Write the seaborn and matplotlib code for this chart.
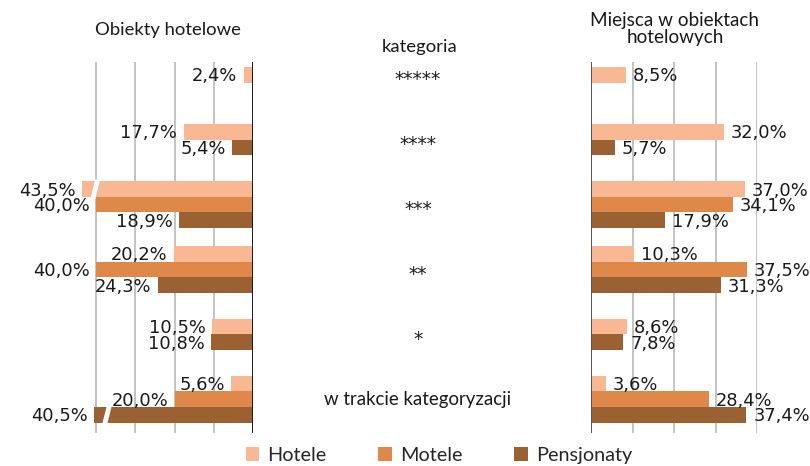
import numpy as np
import pandas as pd
import matplotlib
matplotlib.use("Agg")
import matplotlib.pyplot as plt
import matplotlib.transforms as mtransforms
from matplotlib.patches import Patch
import seaborn as sns

# ---------------- data ----------------
categories = ["*****", "****", "***", "**", "*", "w trakcie kategoryzacji"]
series = ["Hotele", "Motele", "Pensjonaty"]
obiekty_hotele = [2.4, 17.7, 43.5, 20.2, 10.5, 5.6]
obiekty_motele = [None, None, 40.0, 40.0, None, 20.0]
obiekty_pensjonaty = [None, 5.4, 18.9, 24.3, 10.8, 40.5]
miejsca_hotele = [8.5, 32.0, 37.0, 10.3, 8.6, 3.6]
miejsca_motele = [None, None, 34.1, 37.5, None, 28.4]
miejsca_pensjonaty = [None, 5.7, 17.9, 31.3, 7.8, 37.4]
colors = {"Hotele": "#F9B794", "Motele": "#E0884A", "Pensjonaty": "#9B6133"}
title_left = "Obiekty hotelowe"
title_right = "Miejsca w obiektach\nhotelowych"
center_header = "kategoria"
axis_max_left = 40   # broken bars exceed this

BAR_H = 0.24


def build(h, m, p):
    rows = []
    for gi, vals in enumerate(zip(h, m, p)):
        present = [(s, v) for s, v in zip(series, vals) if v is not None]
        n = len(present)
        for k, (s, v) in enumerate(present):
            pos = round(gi + (k - (n - 1) / 2) * BAR_H, 4)
            rows.append({"pos": pos, "value": v, "series": s, "group": gi})
    return pd.DataFrame(rows)


df_left = build(obiekty_hotele, obiekty_motele, obiekty_pensjonaty)
df_right = build(miejsca_hotele, miejsca_motele, miejsca_pensjonaty)

sns.set_theme(style="white")
plt.rcParams["font.family"] = ["DejaVu Sans"]

W, H = 810, 466
fig = plt.figure(figsize=(W / 100, H / 100), dpi=100)

top_px, bot_px = 62, 433
axL = fig.add_axes([72.5 / W, (H - bot_px) / H, (253 - 72.5) / W, (bot_px - top_px) / H])
axR = fig.add_axes([591 / W, (H - bot_px) / H, (757 - 591) / W, (bot_px - top_px) / H])

for ax, df in ((axL, df_left), (axR, df_right)):
    sns.barplot(data=df, x="value", y="pos", hue="series", hue_order=series,
                palette=colors, orient="y", native_scale=True, dodge=False,
                width=1.0, errorbar=None, legend=False, ax=ax, linewidth=0,
                saturation=1)
    ax.set_ylim(5.52, -0.2)
    ax.set_xlabel("")
    ax.set_ylabel("")
    ax.set_yticks([])
    ax.set_xticks([])
    for s in ax.spines.values():
        s.set_visible(False)
    for g in (10, 20, 30, 40):
        ax.axvline(g, color="#c3c3c3", lw=1.4, zorder=0)

axL.set_xlim(46, 0)
axR.set_xlim(0, 40)
axL.axvline(0, color="#1a1a1a", lw=1.4, zorder=3)
axR.axvline(0, color="#555555", lw=1.4, zorder=3)

label_fs = 12.9
for _, r in df_left.iterrows():
    txt = f"{r.value:.1f}%".replace(".", ",")
    axL.annotate(txt, (r.value, r.pos), xytext=(-4.5, -1), textcoords="offset points",
                 ha="right", va="center", fontsize=label_fs, color="#1a1a1a",
                 annotation_clip=False)
    if r.value > axis_max_left:
        # break marker
        xb = r.value - 3.3
        axL.plot([xb + 0.6, xb - 0.6], [r.pos + BAR_H * 0.6, r.pos - BAR_H * 0.6],
                 color="white", lw=3.5, zorder=5, clip_on=False,
                 solid_capstyle="butt")

for _, r in df_right.iterrows():
    txt = f"{r.value:.1f}%".replace(".", ",")
    axR.annotate(txt, (r.value, r.pos), xytext=(5, -1), textcoords="offset points",
                 ha="left", va="center", fontsize=label_fs, color="#1a1a1a",
                 annotation_clip=False)

tr = mtransforms.blended_transform_factory(fig.transFigure, axL.transData)
cat_font = ["Lato", "DejaVu Sans"]
fig.text(420 / W, -0.43, center_header, transform=tr, ha="center", va="center",
         fontsize=13.3, family=cat_font, color="#1a1a1a")
for gi, c in enumerate(categories):
    if set(c) == {"*"}:
        fig.text(418 / W, gi + 0.16, c, transform=tr, ha="center", va="baseline",
                 fontsize=13.5, family=["DejaVu Sans"], color="#1a1a1a")
    else:
        fig.text(418 / W, gi, c, transform=tr, ha="center", va="center",
                 fontsize=13.4, family=cat_font, color="#1a1a1a")

fig.text(168 / W, 1 - 30 / H, title_left, ha="center", va="center", fontsize=13.3,
         family=cat_font, color="#1a1a1a")
fig.text(675 / W, 1 - 29 / H, title_right, ha="center", va="center", fontsize=13.6,
         family=cat_font, color="#1a1a1a", linespacing=1.0)

handles = [Patch(facecolor=colors[s], edgecolor="none") for s in series]
fig.legend(handles, series, loc="lower center", bbox_to_anchor=(439 / W, -0.034),
           ncol=3, frameon=False, prop={"family": cat_font, "size": 14.3},
           handlelength=0.7, handleheight=0.7, handletextpad=0.4, columnspacing=2.6)

fig.savefig("out.png", dpi=100)
